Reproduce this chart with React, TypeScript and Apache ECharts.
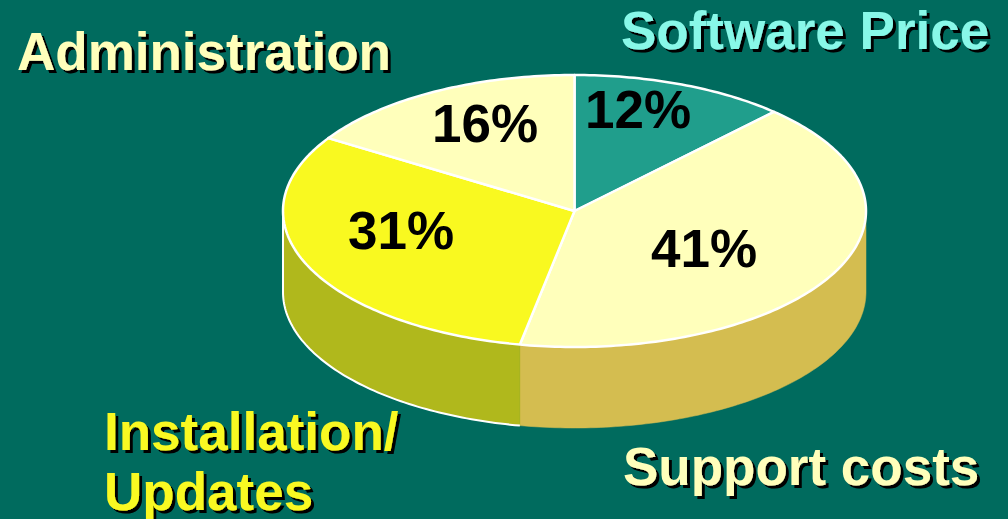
import React, { useEffect, useRef } from "react";
import * as echarts from "echarts";

const sliceNames = ["Software Price", "Support costs", "Installation/Updates", "Administration"];
const sliceValues = [12, 41, 31, 16];
const topColors = ["#209E8C", "#FFFFBB", "#F9F920", "#FFFFBB"];
const wallColors = ["#A8A030", "#D4BD50", "#B0B81C", "#B8B860"];
const wallOutlined = [false, false, true, false];
const percentPositions = [
  [638, 109],
  [704, 248],
  [401, 230],
  [485, 123],
];
const categoryLabels = [
  { text: "Administration", x: 17, y: 51, color: "#FFFFBB" },
  { text: "Software Price", x: 621, y: 30, color: "#88F8E8" },
  { text: "Installation/", x: 104, y: 431, color: "#F9F920" },
  { text: "Updates", x: 104, y: 491, color: "#F9F920" },
  { text: "Support costs", x: 623, y: 466, color: "#FFFFBB" },
];

const CX = 574.5;
const CY = 211;
const RX = 291.5;
const RY = 136;
const DEPTH = 81;
const FONT = 'bold 53px "Liberation Sans", Arial, sans-serif';
const STEP = Math.PI / 180;

const rim = (a: number, dy = 0): number[] => [CX + RX * Math.sin(a), CY - RY * Math.cos(a) + dy];

const arc = (from: number, to: number, dy = 0): number[][] => {
  const pts: number[][] = [];
  const n = Math.max(2, Math.ceil(Math.abs(to - from) / STEP));
  for (let i = 0; i <= n; i++) pts.push(rim(from + ((to - from) * i) / n, dy));
  return pts;
};

const total = sliceValues.reduce((a, b) => a + b, 0);

function renderSlice(params: any, api: any) {
  const i = params.dataIndex;
  const before = sliceValues.slice(0, i).reduce((a, b) => a + b, 0);
  const a0 = (before / total) * 2 * Math.PI;
  const a1 = ((before + Number(api.value(0))) / total) * 2 * Math.PI;
  const children: any[] = [];

  const w0 = Math.max(a0, Math.PI / 2);
  const w1 = Math.min(a1, (3 * Math.PI) / 2);
  if (w1 > w0) {
    const top = arc(w0, w1);
    const bottom = arc(w1, w0, DEPTH);
    children.push({
      type: "polygon",
      shape: { points: [...top, ...bottom] },
      style: { fill: wallColors[i], stroke: wallColors[i], lineWidth: 0.5 },
    });
    if (wallOutlined[i]) {
      children.push({
        type: "polyline",
        shape: { points: [...[...bottom].reverse(), ...[rim(w1)]] },
        style: { fill: "none", stroke: "#FFFFFF", lineWidth: 2 },
      });
    }
  }

  children.push({
    type: "polygon",
    shape: { points: [[CX, CY], ...arc(a0, a1)] },
    style: { fill: topColors[i], stroke: "#FFFFFF", lineWidth: 2.5, lineJoin: "round" },
  });

  children.push({
    type: "text",
    x: percentPositions[i][0],
    y: percentPositions[i][1],
    style: {
      text: `${api.value(0)}%`,
      fill: "#000000",
      font: FONT,
      align: "center",
      verticalAlign: "middle",
    },
  });

  return { type: "group", children };
}

export default function App() {
  const ref = useRef<HTMLDivElement>(null);

  useEffect(() => {
    document.body.style.margin = "0";
    const chart = echarts.init(ref.current!, undefined, { renderer: "svg" });
    chart.setOption({
      animation: false,
      backgroundColor: "#006B5E",
      tooltip: { show: false },
      series: [
        {
          type: "custom",
          coordinateSystem: "none",
          silent: true,
          renderItem: renderSlice,
          data: sliceValues.map((value, k) => ({ name: sliceNames[k], value })),
        },
      ],
      graphic: categoryLabels.map((l) => ({
        type: "text",
        x: l.x,
        y: l.y,
        silent: true,
        z: 10,
        style: {
          text: l.text,
          fill: l.color,
          font: FONT,
          align: "left",
          verticalAlign: "middle",
          textShadowColor: "#000000",
          textShadowOffsetX: 3,
          textShadowOffsetY: 3,
          textShadowBlur: 0.2,
          shadowColor: "#000000",
          shadowOffsetX: 3,
          shadowOffsetY: 3,
          shadowBlur: 0.2,
        },
      })),
    });
    return () => chart.dispose();
  }, []);

  return <div ref={ref} style={{ position: "fixed", left: 0, top: 0, width: 1008, height: 519 }} />;
}
